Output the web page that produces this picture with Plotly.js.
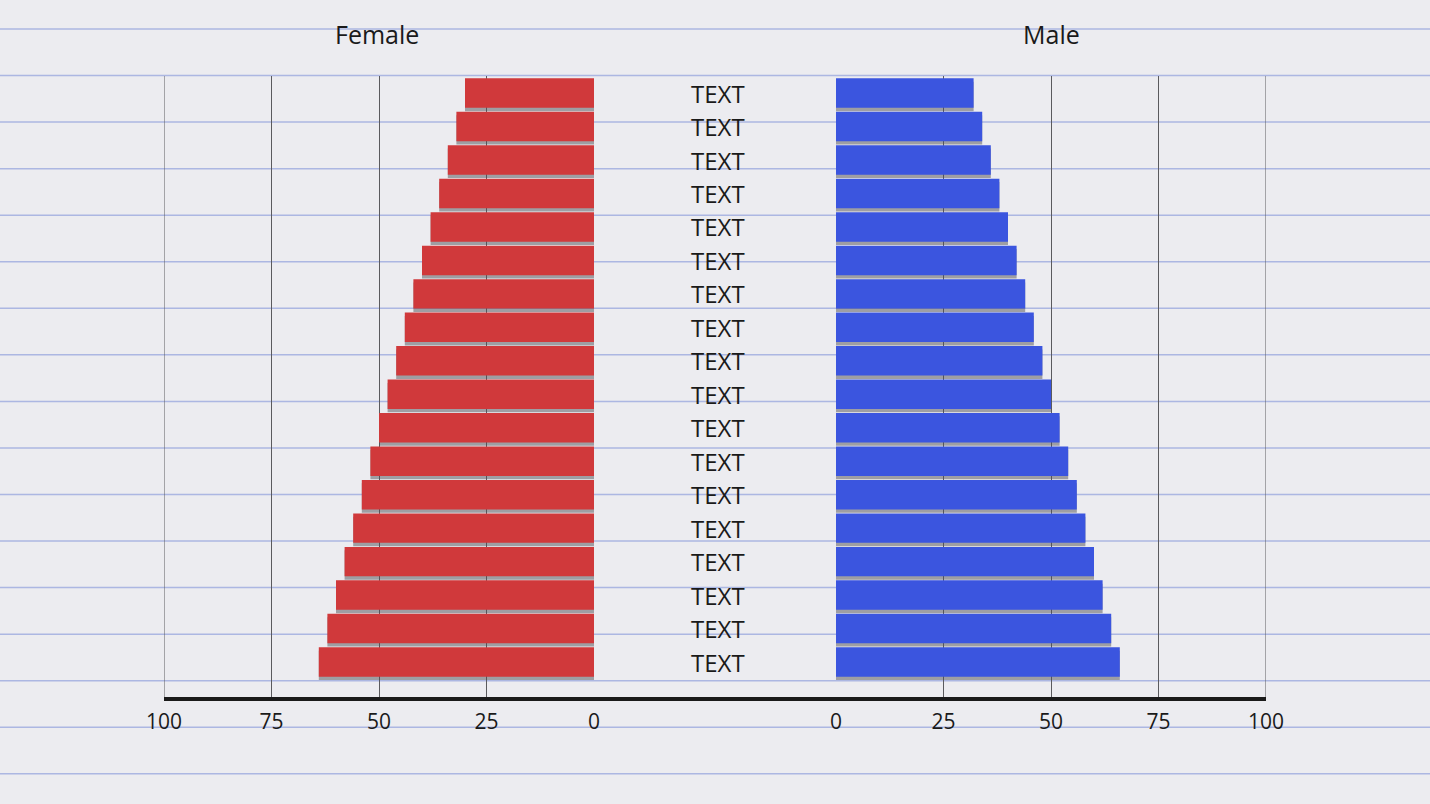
<!DOCTYPE html>
<html>
<head>
<meta charset="utf-8">
<script src="https://cdn.plot.ly/plotly-3.0.1.min.js"></script>
<style>
  html, body { margin: 0; padding: 0; background: #ececf0; }
  #chart { width: 1430px; height: 804px; }
</style>
</head>
<body>
<div id="chart"></div>
<script>
// ---- data (top row first) ----
const rowLabels = ["TEXT","TEXT","TEXT","TEXT","TEXT","TEXT","TEXT","TEXT","TEXT",
                   "TEXT","TEXT","TEXT","TEXT","TEXT","TEXT","TEXT","TEXT","TEXT"];
const femaleValues = [30, 32, 34, 36, 38, 40, 42, 44, 46, 48, 50, 52, 54, 56, 58, 60, 62, 64];
const maleValues   = [32, 34, 36, 38, 40, 42, 44, 46, 48, 50, 52, 54, 56, 58, 60, 62, 64, 66];
const tickVals = [0, 25, 50, 75, 100];
const tickText = ["0", "25", "50", "75", "100"];
const panelTitles = ["Female", "Male"];

const rows = rowLabels.map((_, i) => i);
const FONT = "Open Sans, Noto Sans, sans-serif";
const femaleColor = "#d0393b";
const maleColor = "#3b55df";
const shadowColor = "rgba(80,80,85,0.5)";
const gridColor = "#5a5a5e";
const barW = 0.88;

function barTrace(vals, xa, ya, color, offset) {
  return {
    type: "bar", orientation: "h",
    x: vals, y: rows, xaxis: xa, yaxis: ya,
    width: barW, offset: offset,
    marker: { color: color, line: { width: 0 } },
    hoverinfo: "x", showlegend: false
  };
}

const traces = [
  barTrace(femaleValues, "x", "y", shadowColor, -barW / 2 + 0.1),
  barTrace(femaleValues, "x", "y", femaleColor, -barW / 2),
  barTrace(maleValues, "x2", "y2", shadowColor, -barW / 2 + 0.1),
  barTrace(maleValues, "x2", "y2", maleColor, -barW / 2)
];

// lined-paper background decoration
const shapes = [];
const plotTop = 76, plotBottom = 699, plotH = plotBottom - plotTop;
for (let py = 29; py < 804; py += 46.55) {
  shapes.push({
    type: "line", xref: "paper", yref: "paper", layer: "below",
    x0: -0.2, x1: 1.2, y0: (plotBottom - py) / plotH, y1: (plotBottom - py) / plotH,
    line: { color: "rgba(120,140,215,0.55)", width: 1.5 }
  });
}
// outer grid lines at the 100 ends of both panels (plotly drops edge grid lines)
["x", "x2"].forEach(xr => {
  shapes.push({
    type: "line", xref: xr, yref: "paper", layer: "below",
    x0: tickVals[tickVals.length - 1], x1: tickVals[tickVals.length - 1], y0: 0, y1: 1,
    line: { color: gridColor, width: 1 }
  });
});
// continuous baseline across both panels and the gap
shapes.push({
  type: "line", xref: "paper", yref: "paper", layer: "above",
  x0: 0, x1: 1, y0: 0, y1: 0,
  line: { color: "#1a1a1a", width: 4 }
});

const annotations = [];
rowLabels.forEach((t, i) => {
  annotations.push({
    xref: "paper", yref: "y", x: (718 - 164) / 1102, y: rows[i], text: t,
    showarrow: false, xanchor: "center", yanchor: "middle",
    font: { family: FONT, size: 24, color: "#1a1a1a" }
  });
});
const domF = [0, 430 / 1102], domM = [672 / 1102, 1];
[domF, domM].forEach((d, k) => {
  annotations.push({
    xref: "paper", yref: "paper", x: (d[0] + d[1]) / 2 - (k === 0 ? 0.002 : 0), y: (plotBottom - 34) / plotH,
    text: panelTitles[k], showarrow: false, xanchor: "center", yanchor: "middle",
    font: { family: FONT, size: 25, color: "#1a1a1a" }
  });
});

const xCommon = {
  tickvals: tickVals, ticktext: tickText,
  showgrid: true, gridcolor: gridColor, gridwidth: 1,
  zeroline: false, showline: false, ticks: "",
  ticklabelstandoff: 8,
  tickfont: { family: FONT, size: 21, color: "#1a1a1a" },
  fixedrange: true
};
const yCommon = {
  range: [18.105, -0.51], showgrid: false, zeroline: false,
  showticklabels: false, ticks: "", showline: false, fixedrange: true
};

const layout = {
  width: 1430, height: 804,
  margin: { l: 164, r: 164, t: 76, b: 105 },
  paper_bgcolor: "#ececf0", plot_bgcolor: "rgba(0,0,0,0)",
  barmode: "overlay",
  showlegend: false,
  xaxis: Object.assign({}, xCommon, { domain: domF, range: [100, 0], anchor: "y" }),
  xaxis2: Object.assign({}, xCommon, { domain: domM, range: [0, 100], anchor: "y2" }),
  yaxis: Object.assign({}, yCommon, { domain: [0, 1], anchor: "x" }),
  yaxis2: Object.assign({}, yCommon, { domain: [0, 1], anchor: "x2" }),
  shapes: shapes,
  annotations: annotations
};

Plotly.newPlot("chart", traces, layout, { displayModeBar: false, staticPlot: true });
</script>
</body>
</html>
